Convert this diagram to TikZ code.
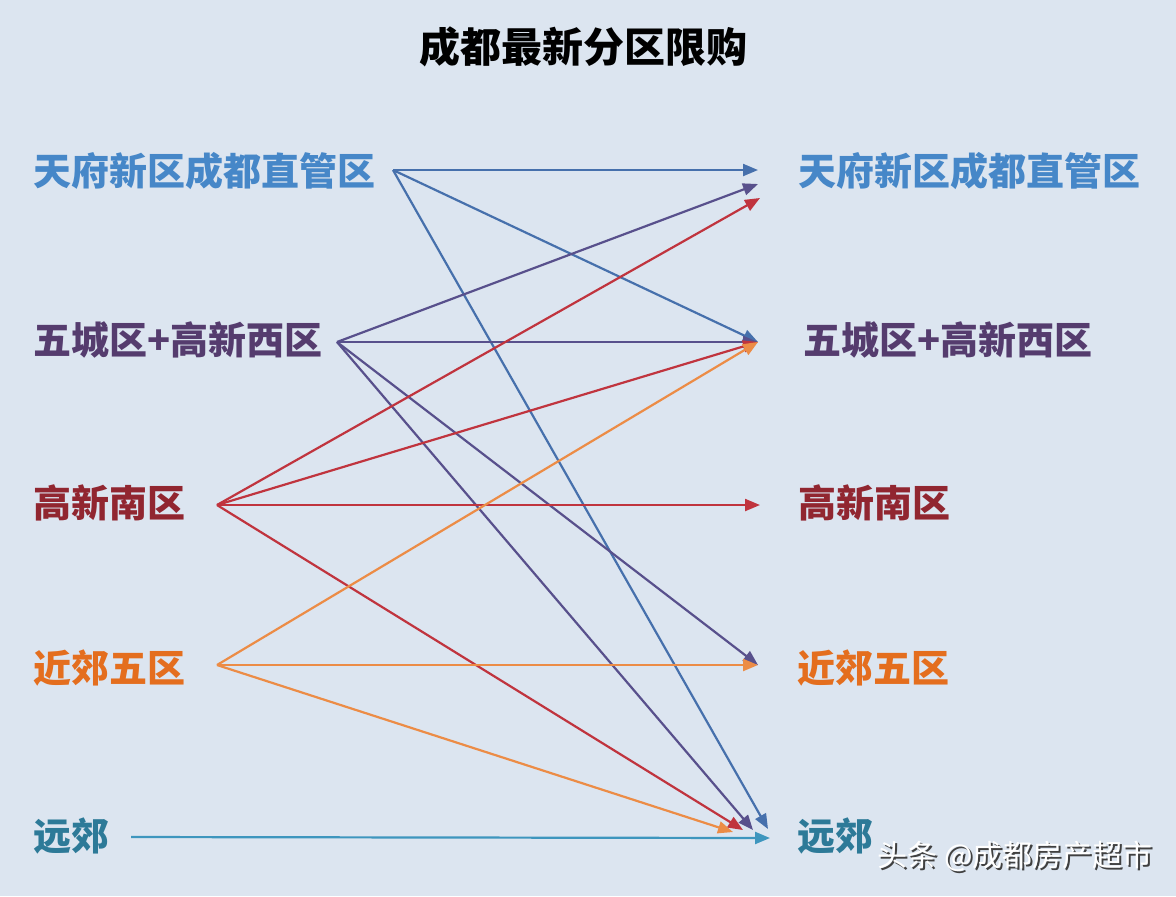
\documentclass[tikz,border=0pt]{standalone}
\usepackage{fontspec}
\newfontfamily\cjk{Noto Sans CJK SC}
\usepackage{tikz}
\usetikzlibrary{arrows.meta}
\definecolor{bgblue}{RGB}{220,229,240}
\definecolor{txtblue}{RGB}{70,135,200}
\definecolor{txtpurple}{RGB}{85,60,110}
\definecolor{txtred}{RGB}{145,38,48}
\definecolor{txtorange}{RGB}{228,110,30}
\definecolor{txtteal}{RGB}{45,122,152}
\definecolor{lnblue}{RGB}{70,112,172}
\definecolor{lnpurple}{RGB}{88,80,140}
\definecolor{lnred}{RGB}{192,52,62}
\definecolor{lnorange}{RGB}{236,140,70}
\definecolor{lnteal}{RGB}{62,150,190}
\tikzset{
    area/.style={anchor=west, inner sep=0pt, font=\cjk\bfseries\fontsize{19pt}{19pt}\selectfont},
    title/.style={inner sep=0pt, font=\cjk\bfseries\fontsize{20.5pt}{20.5pt}\selectfont},
    watermark/.style={inner sep=0pt, anchor=west, font=\cjk\fontsize{15pt}{15pt}\selectfont},
    link/.style={line width=1.1pt, -{Triangle[length=7.5pt,width=6pt]}}
}
\begin{document}
\begin{tikzpicture}[x=0.5pt, y=-0.5pt]
        \fill[bgblue] (0,0) rectangle (1176,896);
        \useasboundingbox (0,0) rectangle (1176,896);

        \node[title] (head) at (583,47) {成都最新分区限购};

        % left column
        \node[area, txtblue] (l1) at (33,171) {天府新区成都直管区};
        \node[area, txtpurple] (l2) at (33,340) {五城区+高新西区};
        \node[area, txtred] (l3) at (33,503) {高新南区};
        \node[area, txtorange] (l4) at (33,668) {近郊五区};
        \node[area, txtteal] (l5) at (33,836) {远郊};

        % right column
        \node[area, txtblue] (r1) at (798,171) {天府新区成都直管区};
        \node[area, txtpurple] (r2) at (803,340) {五城区+高新西区};
        \node[area, txtred] (r3) at (798,503) {高新南区};
        \node[area, txtorange] (r4) at (797,668) {近郊五区};
        \node[area, txtteal] (r5) at (797,836) {远郊};

        % line ends
        \coordinate (l1o) at (393,170);
        \coordinate (l2o) at (337,342);
        \coordinate (l3o) at (217,505);
        \coordinate (l4o) at (217,665);
        \coordinate (l5o) at (131,837);
        \coordinate (r1a) at (758,170);
        \coordinate (r1b) at (758,184);
        \coordinate (r1c) at (760,198);
        \coordinate (r2i) at (758,342);
        \coordinate (r3i) at (760,505);
        \coordinate (r4i) at (758,665);
        \coordinate (r5a) at (733,832);
        \coordinate (r5b) at (743,830);
        \coordinate (r5c) at (753,830);
        \coordinate (r5d) at (768,829);
        \coordinate (r5e) at (770,838);

        \draw[link, lnblue] (l1o) -- (r1a);
        \draw[link, lnblue] (l1o) -- (r2i);
        \draw[link, lnblue] (l1o) -- (r5d);

        \draw[link, lnpurple] (l2o) -- (r1b);
        \draw[link, lnpurple] (l2o) -- (r2i);
        \draw[link, lnpurple] (l2o) -- (r4i);
        \draw[link, lnpurple] (l2o) -- (r5c);

        \draw[link, lnred] (l3o) -- (r1c);
        \draw[link, lnred] (l3o) -- (r2i);
        \draw[link, lnred] (l3o) -- (r3i);
        \draw[link, lnred] (l3o) -- (r5b);

        \draw[link, lnorange] (l4o) -- (r2i);
        \draw[link, lnorange] (l4o) -- (r4i);
        \draw[link, lnorange] (l4o) -- (r5a);

        \draw[link, lnteal] (l5o) -- (r5e);

        \node[watermark, black!75] (wms) at (879,858) {头条 @成都房产超市};
        \node[watermark, white] (wm) at (877,856) {头条 @成都房产超市};
\end{tikzpicture}
\end{document}
